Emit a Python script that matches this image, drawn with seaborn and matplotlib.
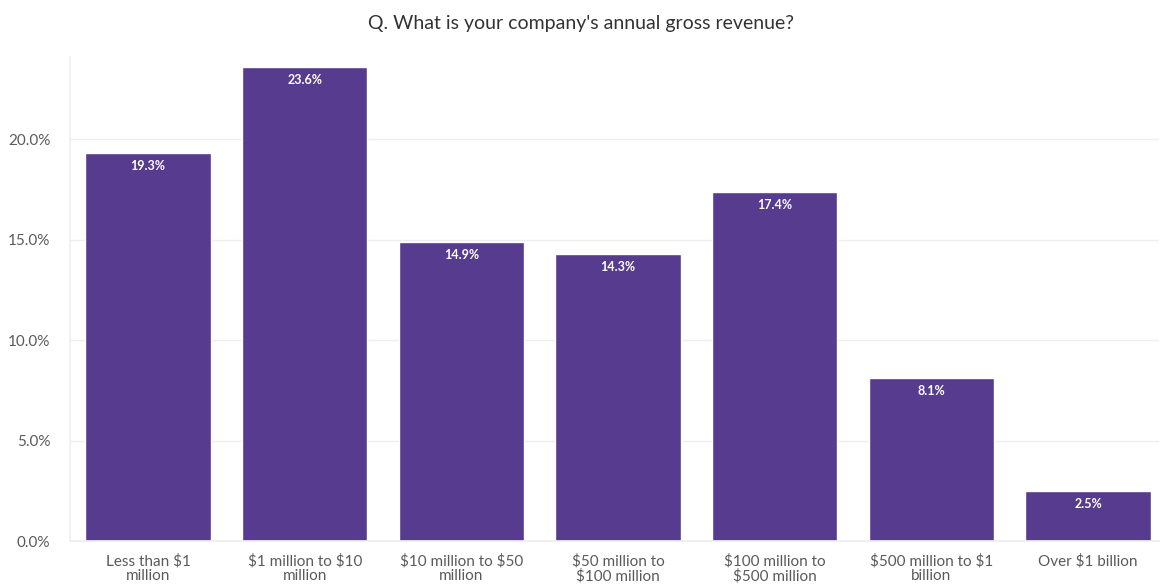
import matplotlib
matplotlib.use("Agg")
import matplotlib.pyplot as plt
import seaborn as sns
import pandas as pd
from matplotlib.ticker import FuncFormatter

categories = [
    "Less than $1\nmillion",
    "$1 million to $10\nmillion",
    "$10 million to $50\nmillion",
    "$50 million to\n$100 million",
    "$100 million to\n$500 million",
    "$500 million to $1\nbillion",
    "Over $1 billion",
]
shares = [19.3, 23.6, 14.9, 14.3, 17.4, 8.1, 2.5]
y_ticks = [0, 5, 10, 15, 20]

sns.set_theme(style="white")
plt.rcParams["font.family"] = ["Lato", "DejaVu Sans"]
plt.rcParams["text.parse_math"] = False

df = pd.DataFrame({"category": categories, "share": shares})

fig = plt.figure(figsize=(11.62, 5.87), dpi=100)
ax = fig.add_axes([0.060, 0.078, 0.937, 0.825])

bar_color = "#573b8e"
sns.barplot(data=df, x="category", y="share", color=bar_color, width=0.8,
            saturation=1, ax=ax, zorder=2)

for patch, val in zip(ax.patches, shares):
    x = patch.get_x() + patch.get_width() / 2
    ax.annotate(f"{val:.1f}%", (x, patch.get_height()), xytext=(0, -5),
                textcoords="offset points", ha="center", va="top",
                color="white", fontsize=9, fontweight="bold")

ax.set_ylim(0, 24.1)
ax.set_xlim(-0.5, 6.45)
ax.set_yticks(y_ticks)
ax.yaxis.set_major_formatter(FuncFormatter(lambda v, _: f"{v:.1f}%"))
ax.grid(axis="y", color="#eeeeee", linewidth=1, zorder=0)
for s in ["top", "right"]:
    ax.spines[s].set_visible(False)
ax.spines["left"].set_color("#f0f0f0")
ax.spines["bottom"].set_color("#eeeeee")
ax.tick_params(axis="both", length=0, colors="#5a5a5a", labelsize=11)
ax.tick_params(axis="x", pad=9)
ax.tick_params(axis="y", pad=14)
ax.set_xlabel("")
ax.set_ylabel("")
for lbl in ax.get_xticklabels():
    lbl.set_linespacing(1.05)

fig.suptitle("Q. What is your company's annual gross revenue?", x=0.5, y=0.975,
             fontsize=14, color="#333333")

fig.savefig("out.png", dpi=100, facecolor="white")
